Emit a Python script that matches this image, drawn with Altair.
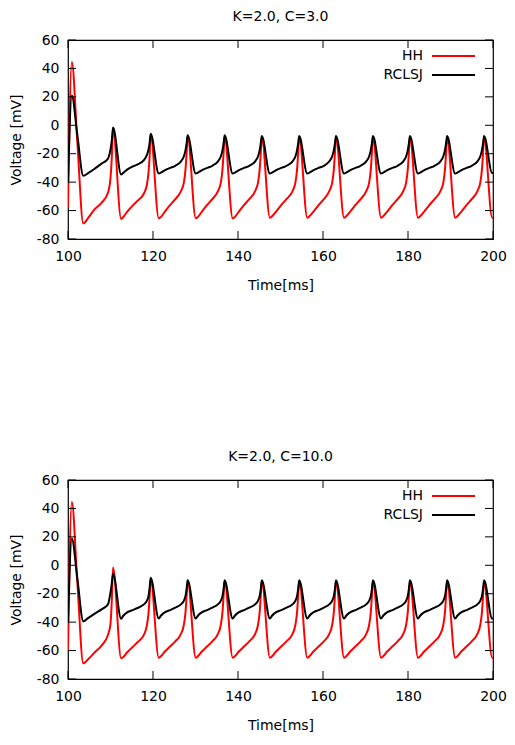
import altair as alt
import pandas as pd

# ---------------- data ----------------
T = [
    100.0, 100.9, 102.2, 103.6, 104.8, 106.3, 107.9, 109.4, 110.0, 110.3, 110.6,
    112.5, 113.0, 114.0, 115.2, 116.4, 117.85, 118.55, 118.95, 119.2, 119.45,
    121.35, 121.85, 122.85, 124.05, 125.25, 126.55, 127.25, 127.65, 127.9, 128.15,
    130.05, 130.55, 131.55, 132.75, 133.95, 135.25, 135.95, 136.35, 136.6, 136.85,
    138.75, 139.25, 140.25, 141.45, 142.65, 144.0, 144.7, 145.1, 145.35, 145.6,
    147.5, 148.0, 149.0, 150.2, 151.4, 152.8, 153.5, 153.9, 154.15, 154.4,
    156.3, 156.8, 157.8, 159.0, 160.2, 161.45, 162.15, 162.55, 162.8, 163.05,
    164.95, 165.45, 166.45, 167.65, 168.85, 170.15, 170.85, 171.25, 171.5, 171.75,
    173.65, 174.15, 175.15, 176.35, 177.55, 178.85, 179.55, 179.95, 180.2, 180.45,
    182.35, 182.85, 183.85, 185.05, 186.25, 187.6, 188.3, 188.7, 188.95, 189.2,
    191.1, 191.6, 192.6, 193.8, 195.0, 196.3, 197.0, 197.4, 197.65, 197.9,
    199.8, 200.0,
]

HH_TOP = [
    -58, 44.5, -12, -69, -65, -59, -54.5, -47.5, -37, -23, -2,
    -65.9, -64.5, -60.5, -56.5, -53, -48, -42, -33, -22, -6.5,
    -65.5, -64.5, -60.5, -56, -52, -46.5, -40.5, -31, -20, -7.5,
    -65.5, -64.5, -60.5, -56, -52, -46.5, -40.5, -31, -20, -8,
    -65.5, -64.5, -60.5, -56, -52, -46.5, -40.5, -31, -20, -8,
    -65, -64, -60.5, -56, -52, -46.5, -40.5, -31, -20, -8,
    -65, -64, -60.5, -56, -52, -46.5, -40.5, -31, -20, -8.5,
    -65, -64, -60.5, -56, -52, -46.5, -40.5, -31, -20, -8.5,
    -65, -64, -60.5, -56, -52, -46.5, -40.5, -31, -20, -8.5,
    -65, -64, -60.5, -56, -52, -46.5, -40.5, -31, -20, -8.5,
    -65, -64, -60.5, -56, -52, -46.5, -40.5, -31, -20, -8.5,
    -65, -65,
]

RC_TOP = [
    -40, 21, -7, -35.5, -33.5, -30.5, -27, -23.5, -17, -11, -1.5,
    -34.6, -33.5, -31, -29, -27.5, -24.5, -21, -17, -12.5, -6,
    -34, -33.3, -31.5, -30, -28.5, -25.5, -22, -17.5, -13, -7,
    -34, -33.3, -31.5, -30, -28.5, -25.5, -22, -17.5, -13, -7,
    -34, -33.3, -31.5, -30, -28.5, -25.5, -22, -17.5, -13, -7.5,
    -34, -33.3, -31.5, -30, -28.5, -25.5, -22, -17.5, -13, -7.5,
    -34, -33.3, -31.5, -30, -28.5, -25.5, -22, -17.5, -13, -7.5,
    -34, -33.3, -31.5, -30, -28.5, -25.5, -22, -17.5, -13, -7.5,
    -34, -33.3, -31.5, -30, -28.5, -25.5, -22, -17.5, -13, -7.5,
    -34, -33.3, -31.5, -30, -28.5, -25.5, -22, -17.5, -13, -7.5,
    -34, -33.3, -31.5, -30, -28.5, -25.5, -22, -17.5, -13, -7.5,
    -33.5, -33.5,
]

HH_BOT = [
    -60, 44.5, -12, -69, -65.9, -61.2, -56.5, -49, -41.2, -25, -1.6,
    -65.5, -64.5, -61, -57.5, -54, -49, -42.5, -33.5, -22.5, -9.5,
    -65, -64, -60.5, -57, -53.5, -48.5, -42, -33, -22, -10.5,
    -65, -64, -60.5, -57, -53.5, -48.5, -42, -33, -22, -11,
    -65, -64, -60.5, -57, -53.5, -48.5, -42, -33, -22, -11,
    -65, -64, -60.5, -57, -53.5, -48.5, -42, -33, -22, -11,
    -65, -64, -60.5, -57, -53.5, -48.5, -42, -33, -22, -11,
    -65, -64, -60.5, -57, -53.5, -48.5, -42, -33, -22, -11,
    -65, -64, -60.5, -57, -53.5, -48.5, -42, -33, -22, -11,
    -65, -64, -60.5, -57, -53.5, -48.5, -42, -33, -22, -11,
    -65, -64, -60.5, -57, -53.5, -48.5, -42, -33, -22, -11,
    -65, -65,
]

RC_BOT = [
    -40, 18.8, -9.3, -39.5, -37, -34, -31, -27.5, -19, -13, -5.9,
    -37.6, -35.5, -33, -31.5, -30, -27.5, -25, -21.5, -16, -8.7,
    -37.5, -35.5, -33, -31.5, -29.8, -27.5, -25, -21.5, -17, -10.5,
    -37.5, -35.5, -33, -31.5, -29.8, -27.5, -25, -21.5, -17, -10.5,
    -37.5, -35.5, -33, -31.5, -29.8, -27.5, -25, -21.5, -17, -10.5,
    -37.5, -35.5, -33, -31.5, -29.8, -27.5, -25, -21.5, -17, -10.5,
    -37.5, -35.5, -33, -31.5, -29.8, -27.5, -25, -21.5, -17, -10.5,
    -37.5, -35.5, -33, -31.5, -29.8, -27.5, -25, -21.5, -17, -10.5,
    -37.5, -35.5, -33, -31.5, -29.8, -27.5, -25, -21.5, -17, -10.5,
    -37.5, -35.5, -33, -31.5, -29.8, -27.5, -25, -21.5, -17, -10.5,
    -37.5, -35.5, -33, -31.5, -29.8, -27.5, -25, -21.5, -17, -10.5,
    -37.5, -37.5,
]

X_TICKS = [100, 120, 140, 160, 180, 200]
Y_TICKS = [-80, -60, -40, -20, 0, 20, 40, 60]
SERIES = ["HH", "RCLSJ"]
COLORS = ["#ff0000", "#000000"]
TITLES = ["K=2.0, C=3.0", "K=2.0, C=10.0"]

# ---------------- styling ----------------
FONT = "DejaVu Sans"
W, H = 425, 199
TICK = 8
LEG_Y = [16, 35]
LEG_TEXT_X = W - 70
LEG_LINE_X = (W - 61, W - 18)


def panel(title, hh, rc):
    df = pd.DataFrame({
        "t": T + T,
        "v": hh + rc,
        "series": ["HH"] * len(T) + ["RCLSJ"] * len(T),
    })
    xs = alt.Scale(domain=[100, 200], nice=False, zero=False)
    ys = alt.Scale(domain=[-80, 60], nice=False, zero=False)
    cs = alt.Scale(domain=SERIES, range=COLORS)
    xaxis = alt.Axis(values=X_TICKS, title="Time[ms]", tickSize=0, domain=False,
                     grid=False, labelPadding=10, titlePadding=15,
                     labelFontSize=14, titleFontSize=14, labelFont=FONT,
                     titleFont=FONT, titleFontWeight="normal",
                     labelColor="black", titleColor="black", labelFlush=False)
    yaxis = alt.Axis(values=Y_TICKS, title="Voltage [mV]", tickSize=0,
                     domain=False, grid=False, labelPadding=9, titlePadding=13,
                     labelExpr="'' + datum.value",
                     labelFontSize=14, titleFontSize=14, labelFont=FONT,
                     titleFont=FONT, titleFontWeight="normal",
                     labelColor="black", titleColor="black", labelFlush=False)

    lines = alt.Chart(df).mark_line(strokeWidth=2, interpolate="monotone", clip=True).encode(
        x=alt.X("t:Q", scale=xs, axis=xaxis),
        y=alt.Y("v:Q", scale=ys, axis=yaxis),
        color=alt.Color("series:N", scale=cs, legend=None),
    )

    xt = pd.DataFrame({"xt": X_TICKS})
    yt = pd.DataFrame({"yt": Y_TICKS})
    rule = dict(color="black", strokeWidth=1)
    xb = alt.Chart(xt).mark_rule(**rule).encode(
        x=alt.X("xt:Q", scale=xs, axis=xaxis), y=alt.value(H), y2=alt.value(H - TICK))
    xtp = alt.Chart(xt).mark_rule(**rule).encode(
        x=alt.X("xt:Q", scale=xs, axis=xaxis), y=alt.value(0), y2=alt.value(TICK))
    yl = alt.Chart(yt).mark_rule(**rule).encode(
        y=alt.Y("yt:Q", scale=ys, axis=yaxis), x=alt.value(0), x2=alt.value(TICK))
    yr = alt.Chart(yt).mark_rule(**rule).encode(
        y=alt.Y("yt:Q", scale=ys, axis=yaxis), x=alt.value(W - TICK), x2=alt.value(W))

    leg_df = pd.DataFrame({"series": SERIES})
    legend_layers = []
    for name, py in zip(SERIES, LEG_Y):
        base = alt.Chart(leg_df).transform_filter(alt.datum.series == name)
        legend_layers.append(
            base.mark_text(align="right", baseline="middle", font=FONT,
                           fontSize=14, color="black").encode(
                text="series:N", x=alt.value(LEG_TEXT_X), y=alt.value(py)))
        legend_layers.append(
            base.mark_rule(strokeWidth=2).encode(
                x=alt.value(LEG_LINE_X[0]), x2=alt.value(LEG_LINE_X[1]), y=alt.value(py),
                color=alt.Color("series:N", scale=cs, legend=None)))

    return alt.layer(lines, xb, xtp, yl, yr, *legend_layers).properties(
        width=W, height=H,
        title=alt.TitleParams(text=title, font=FONT, fontSize=14,
                              fontWeight="normal", color="black",
                              anchor="middle", frame="group", offset=9.5),
    )


chart = alt.vconcat(
    panel(TITLES[0], HH_TOP, RC_TOP),
    panel(TITLES[1], HH_BOT, RC_BOT),
    spacing=155,
).properties(
    padding={"left": 0, "top": 0, "right": 0, "bottom": 0},
    background="white",
).configure_view(stroke="black", strokeWidth=1.2)

chart.save("out.html", embed_options={"renderer": "svg", "actions": False})
